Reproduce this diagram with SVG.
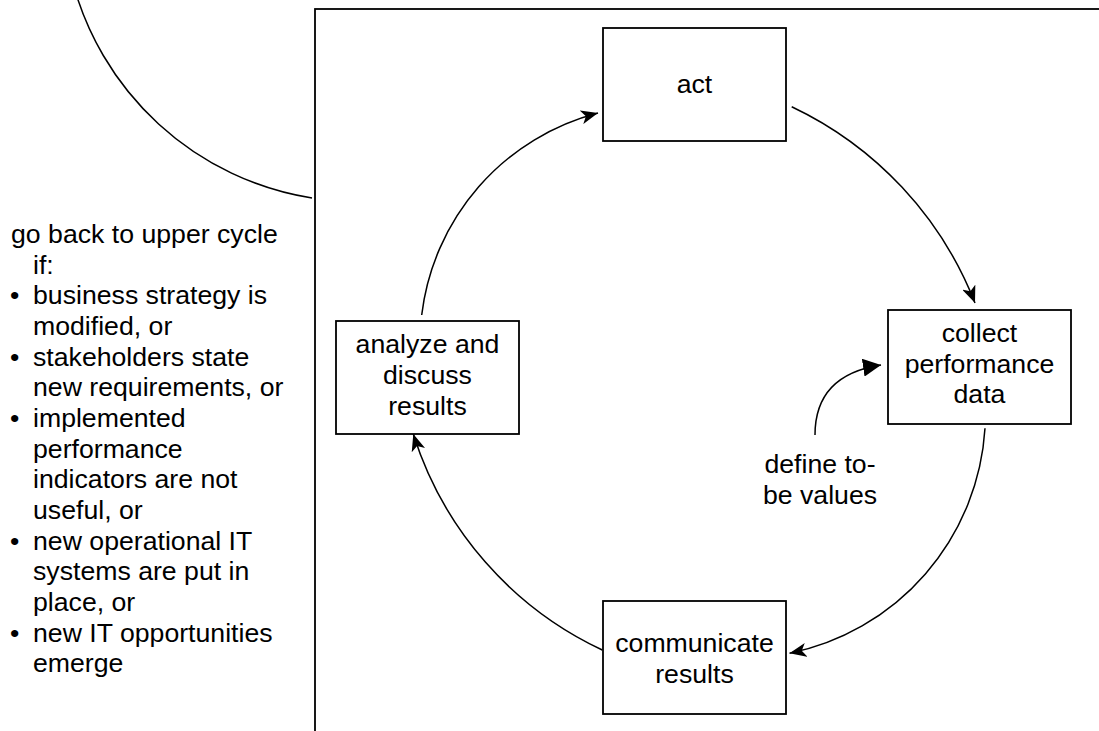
<svg xmlns="http://www.w3.org/2000/svg" width="1099" height="731" viewBox="0 0 1099 731">
  <style>
    .box { fill: #ffffff; stroke: #000000; stroke-width: 1.8; }
    .frame { fill: none; stroke: #000000; stroke-width: 1.8; }
    .edge { fill: none; stroke: #000000; stroke-width: 1.5; }
    .t { font-family: "Liberation Sans", Arial, sans-serif; font-size: 26.67px; fill: #000000; }
    .c { text-anchor: middle; }
  </style>
  <defs>
    <marker id="classic" viewBox="0 0 17 14" refX="17" refY="7" markerWidth="17" markerHeight="14" markerUnits="userSpaceOnUse" orient="auto">
      <path d="M0,0 L17,7 L0,14 L4.5,7 Z" fill="#000000"/>
    </marker>
    <marker id="block" viewBox="0 0 18 18" refX="18" refY="9" markerWidth="18" markerHeight="18" markerUnits="userSpaceOnUse" orient="auto">
      <path d="M0,0 L18,9 L0,18 Z" fill="#000000"/>
    </marker>
  </defs>

  <g id="frame">
    <rect class="frame" x="315" y="9" width="820" height="760"/>
  </g>

  <g id="connectors">
    <path class="edge" d="M71.5,-22.5 A295.6,295.6 0 0 0 312,198"/>
    <path class="edge" d="M421.7,315 A238,238 0 0 1 598,113" marker-end="url(#classic)"/>
    <path class="edge" d="M791.7,106.7 A364,364 0 0 1 975,303" marker-end="url(#classic)"/>
    <path class="edge" d="M985,428.3 A245,245 0 0 1 789.5,653.3" marker-end="url(#classic)"/>
    <path class="edge" d="M602.3,650 A356.8,356.8 0 0 1 413.3,434" marker-end="url(#classic)"/>
    <path class="edge" d="M815,435 Q815,375 881,365" marker-end="url(#block)"/>
  </g>

  <g id="act">
    <rect class="box" x="603" y="28" width="183" height="113"/>
    <text class="t c" x="694.5" y="93">act</text>
  </g>

  <g id="collect">
    <rect class="box" x="888" y="310" width="183" height="114"/>
    <text class="t c" x="979.5" y="342">collect</text>
    <text class="t c" x="979.5" y="372.5">performance</text>
    <text class="t c" x="979.5" y="403">data</text>
  </g>

  <g id="communicate">
    <rect class="box" x="603" y="601" width="183" height="113"/>
    <text class="t c" x="694.5" y="652">communicate</text>
    <text class="t c" x="694.5" y="683">results</text>
  </g>

  <g id="analyze">
    <rect class="box" x="336" y="321" width="183" height="113"/>
    <text class="t c" x="427.5" y="352.5">analyze and</text>
    <text class="t c" x="427.5" y="383.5">discuss</text>
    <text class="t c" x="427.5" y="414.5">results</text>
  </g>

  <g id="define-label">
    <text class="t c" x="820" y="473">define to-</text>
    <text class="t c" x="820" y="503.5">be values</text>
  </g>

  <g id="note">
    <text class="t" x="11" y="243">go back to upper cycle</text>
    <text class="t" x="33" y="273.7">if:</text>
    <text class="t" x="10" y="304.3">•</text>
    <text class="t" x="33" y="304.3">business strategy is</text>
    <text class="t" x="33" y="335">modified, or</text>
    <text class="t" x="10" y="365.7">•</text>
    <text class="t" x="33" y="365.7">stakeholders state</text>
    <text class="t" x="33" y="396.3">new requirements, or</text>
    <text class="t" x="10" y="427">•</text>
    <text class="t" x="33" y="427">implemented</text>
    <text class="t" x="33" y="457.7">performance</text>
    <text class="t" x="33" y="488.3">indicators are not</text>
    <text class="t" x="33" y="519">useful, or</text>
    <text class="t" x="10" y="549.7">•</text>
    <text class="t" x="33" y="549.7">new operational IT</text>
    <text class="t" x="33" y="580.3">systems are put in</text>
    <text class="t" x="33" y="611">place, or</text>
    <text class="t" x="10" y="641.7">•</text>
    <text class="t" x="33" y="641.7">new IT opportunities</text>
    <text class="t" x="33" y="672.3">emerge</text>
  </g>
</svg>
